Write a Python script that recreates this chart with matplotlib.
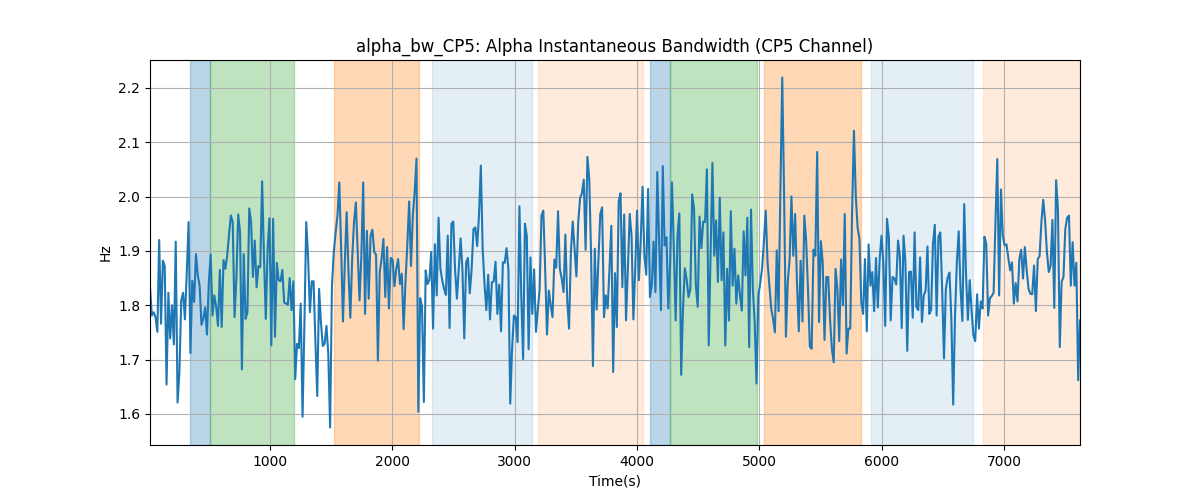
import numpy as np
import matplotlib
matplotlib.use("Agg")
import matplotlib.pyplot as plt

# values, left to right
bw = [
    1.833, 1.781, 1.787, 1.778, 1.751, 1.920, 1.766, 1.882, 1.872, 1.654,
    1.823, 1.739, 1.800, 1.728, 1.917, 1.621, 1.677, 1.809, 1.823, 1.774,
    1.860, 1.953, 1.712, 1.845, 1.806, 1.894, 1.855, 1.836, 1.764, 1.775,
    1.796, 1.746, 1.842, 1.893, 1.781, 1.818, 1.797, 1.762, 1.865, 1.760,
    1.883, 1.867, 1.891, 1.930, 1.965, 1.953, 1.778, 1.850, 1.967, 1.934,
    1.682, 1.894,
    1.775, 1.787, 1.978, 1.953, 1.852, 1.919, 1.833, 1.872, 1.870, 2.028,
    1.891, 1.775, 1.904, 1.960, 1.726, 1.959, 1.742, 1.878, 1.846, 1.844,
    1.865, 1.805, 1.803, 1.801, 1.850, 1.791, 1.844, 1.664, 1.729, 1.721,
    1.803, 1.595, 1.763, 1.953, 1.891, 1.787, 1.844, 1.844, 1.732, 1.633,
    1.830, 1.769, 1.725, 1.729, 1.762, 1.711, 1.575, 1.836, 1.898, 1.934,
    1.965, 2.026,
    1.904, 1.770, 1.879, 1.971, 1.861, 1.777, 1.885, 1.953, 1.989, 1.898,
    1.809, 1.891, 2.026, 1.784, 1.937, 1.812, 1.928, 1.939, 1.898, 1.893,
    1.698, 1.861, 1.885, 1.922, 1.815, 1.907, 1.794, 1.887, 1.884, 1.835,
    1.867, 1.885, 1.839, 1.858, 1.756, 1.843, 1.911, 1.991, 1.872, 1.965,
    2.008, 2.070, 1.604, 1.813, 1.797, 1.622, 1.864, 1.839, 1.846, 1.898,
    1.757, 1.912,
    1.818, 1.961, 1.867, 1.846, 1.830, 1.819, 1.928, 1.758, 1.950, 1.954,
    1.864, 1.812, 1.867, 1.923, 1.864, 1.739, 1.879, 1.887, 1.822, 1.867,
    1.940, 1.943, 1.909, 1.965, 2.057, 1.904, 1.839, 1.791, 1.856, 1.774,
    1.842, 1.844, 1.880, 1.784, 1.838, 1.752, 1.879, 1.878, 1.905, 1.867,
    1.619, 1.720, 1.781, 1.778, 1.732, 1.982, 1.818, 1.701, 1.950, 1.928,
    1.719, 1.888,
    1.784, 1.866, 1.751, 1.791, 1.830, 1.965, 1.974, 1.867, 1.746, 1.827,
    1.800, 1.778, 1.884, 1.869, 1.973, 1.867, 1.849, 1.824, 1.930, 1.809,
    1.757, 1.898, 1.954, 1.904, 1.853, 1.953, 1.997, 2.006, 2.031, 1.902,
    2.073, 2.032, 1.891, 1.688, 1.904, 1.792, 1.885, 1.968, 1.980, 1.778,
    1.818, 1.794, 1.867, 1.946, 1.677, 1.859, 1.760, 1.991, 2.006, 1.833,
    1.967, 1.772,
    1.867, 1.968, 1.928, 1.774, 1.867, 1.974, 1.846, 1.919, 2.018, 1.891,
    1.856, 2.014, 1.815, 1.836, 1.917, 1.824, 2.045, 1.919, 1.791, 2.056,
    1.910, 1.925, 1.794, 1.879, 2.026, 1.904, 1.772, 1.928, 1.969, 1.672,
    1.794, 1.868, 1.847, 1.815, 1.830, 2.004, 1.977, 1.836, 1.797, 1.963,
    1.905, 1.954, 1.953, 2.050, 1.726, 1.891, 2.062, 1.891, 1.956, 1.843,
    1.998,
    1.846, 1.934, 1.726, 1.867, 1.772, 1.973, 1.836, 1.904, 1.803, 1.855,
    1.818, 1.790, 1.936, 1.855, 1.961, 1.723, 1.976, 1.830, 1.769, 1.656,
    1.818, 1.840, 1.867, 1.916, 1.974, 1.879, 1.836, 1.794, 1.775, 1.750,
    1.901, 1.789, 2.014, 2.219, 2.002, 1.742, 1.843, 1.884, 2.000, 1.891,
    1.968, 1.843, 1.752, 1.882, 1.770, 1.965, 1.919, 1.830, 1.724, 1.720,
    1.902,
    1.891, 2.082, 1.769, 1.918, 1.879, 1.736, 1.852, 1.852, 1.775, 1.720,
    1.695, 1.867, 1.830, 1.734, 1.884, 1.800, 1.968, 1.711, 1.757, 1.757,
    1.971, 2.121, 2.002, 1.943, 1.922, 1.806, 1.784, 1.885, 1.752, 1.912,
    1.836, 1.861, 1.789, 1.887, 1.796, 1.885, 1.928, 1.879, 1.762, 1.959,
    1.925, 1.772, 1.852, 1.849, 1.838, 1.919, 1.891, 1.758, 1.928, 1.879,
    1.716, 1.861,
    1.862, 1.777, 1.934, 1.797, 1.791, 1.888, 1.769, 1.818, 1.827, 1.908,
    1.784, 1.792, 1.913, 1.948, 1.781, 1.926, 1.934, 1.830, 1.702, 1.830,
    1.851, 1.860, 1.775, 1.617, 1.781, 1.879, 1.936, 1.830, 1.771, 1.986,
    1.855, 1.773, 1.846, 1.791, 1.745, 1.734, 1.820, 1.757, 1.807, 1.794,
    1.926, 1.913, 1.781, 1.813, 1.817, 1.823, 1.953, 2.069, 1.818, 2.013,
    1.928, 1.910,
    1.912, 1.887, 1.864, 1.879, 1.803, 1.841, 1.807, 1.885, 1.902, 1.849,
    1.907, 1.864, 1.830, 1.821, 1.820, 1.873, 1.789, 1.885, 1.890, 1.953,
    1.994, 1.956, 1.898, 1.861, 1.873, 1.957, 1.795, 2.030, 1.977, 1.723,
    1.843, 1.852, 1.940, 1.961, 1.965, 1.836, 1.916, 1.836, 1.878, 1.662,
    1.772,
]
t_start, t_end = 20, 7620

# shaded intervals (start, end, colour, alpha)
span_start = [346, 509, 1525, 2321, 3188, 4106, 4272, 5038, 5913, 6828]
span_end = [509, 1193, 2215, 3139, 4046, 4272, 4978, 5828, 6744, 7620]
span_color = ["tab:blue", "tab:green", "tab:orange", "tab:blue", "tab:orange",
              "tab:blue", "tab:green", "tab:orange", "tab:blue", "tab:orange"]
span_alpha = [0.3, 0.3, 0.3, 0.12, 0.15, 0.3, 0.3, 0.3, 0.12, 0.15]

t = np.linspace(t_start, t_end, len(bw))

fig, ax = plt.subplots(figsize=(12, 5), dpi=100)
for s, e, c, a in zip(span_start, span_end, span_color, span_alpha):
    ax.axvspan(s, e, color=c, alpha=a)
ax.plot(t, bw, color="tab:blue", linewidth=1.5)
ax.set_xlim(t[0], t[-1])
ax.set_title("alpha_bw_CP5: Alpha Instantaneous Bandwidth (CP5 Channel)")
ax.set_xlabel("Time(s)")
ax.set_ylabel("Hz")
ax.grid(True)
fig.savefig("out.png")
